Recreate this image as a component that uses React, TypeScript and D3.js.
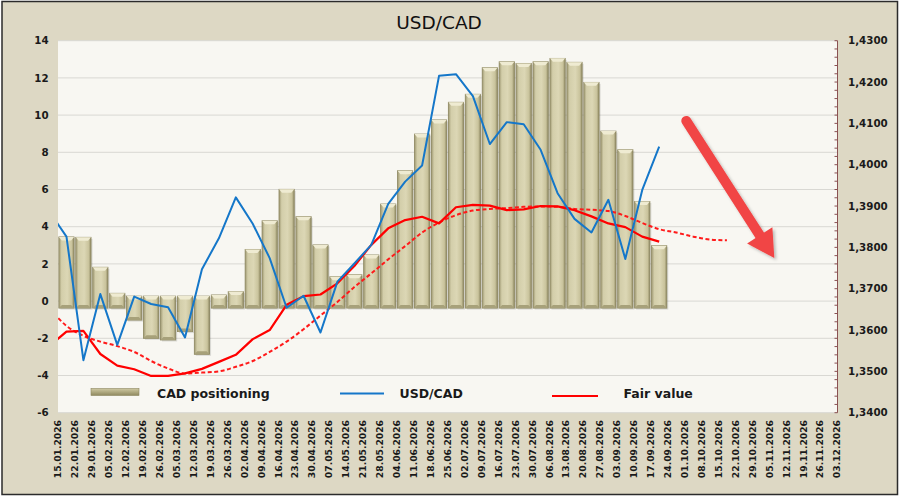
import React, { useRef, useEffect } from 'react';
import * as d3 from 'd3';

// weekly category labels on the x axis
const dates = [
  '15.01.2026', '22.01.2026', '29.01.2026', '05.02.2026', '12.02.2026', '19.02.2026', '26.02.2026',
  '05.03.2026', '12.03.2026', '19.03.2026', '26.03.2026', '02.04.2026', '09.04.2026', '16.04.2026',
  '23.04.2026', '30.04.2026', '07.05.2026', '14.05.2026', '21.05.2026', '28.05.2026', '04.06.2026',
  '11.06.2026', '18.06.2026', '25.06.2026', '02.07.2026', '09.07.2026', '16.07.2026', '23.07.2026',
  '30.07.2026', '06.08.2026', '13.08.2026', '20.08.2026', '27.08.2026', '03.09.2026', '10.09.2026',
  '17.09.2026', '24.09.2026', '01.10.2026', '08.10.2026', '15.10.2026', '22.10.2026', '29.10.2026',
  '05.11.2026', '12.11.2026', '19.11.2026', '26.11.2026', '03.12.2026',
];

// CAD positioning (left axis), one bar per week starting 15.01
const positioning = [
  3.45, 3.43, 1.82, 0.42, -1.02, -2.0, -2.09, -1.64, -2.86, 0.33, 0.51, 2.78, 4.32, 6.01, 4.54, 3.02,
  1.31, 1.42, 2.48, 5.22, 7.01, 8.98, 9.74, 10.69, 11.12, 12.55, 12.87, 12.78, 12.87, 13.05, 12.84,
  11.76, 9.14, 8.14, 5.36, 2.98,
];

// right axis series; first value is the week before 15.01 (clipped at the plot edge)
const usdcad = [
  1.3886, 1.3826, 1.3527, 1.3687, 1.3564, 1.3681, 1.3663, 1.3655, 1.3582, 1.3747, 1.3822, 1.3921,
  1.3857, 1.3774, 1.3654, 1.3683, 1.3594, 1.3717, 1.3761, 1.3806, 1.3905, 1.3959, 1.3998, 1.4215,
  1.4219, 1.4166, 1.405, 1.4103, 1.4098, 1.4036, 1.3931, 1.3869, 1.3836, 1.3915, 1.3772, 1.3939, 1.4044,
];

const fairValue = [
  1.3562, 1.3596, 1.3598, 1.3542, 1.3514, 1.3505, 1.3489, 1.3489, 1.3495, 1.3506, 1.3523, 1.354,
  1.3578, 1.36, 1.3661, 1.3682, 1.3686, 1.3713, 1.3755, 1.3806, 1.3846, 1.3866, 1.3874, 1.3858,
  1.3897, 1.3903, 1.3901, 1.389, 1.3892, 1.39, 1.3899, 1.389, 1.3875, 1.3858, 1.3849, 1.3826, 1.3814,
];

const fairTrend = [
  1.3652, 1.361, 1.3586, 1.3572, 1.3561, 1.3547, 1.3525, 1.3507, 1.3495, 1.3497, 1.35, 1.3511, 1.3525,
  1.3547, 1.3572, 1.3602, 1.3635, 1.3668, 1.3704, 1.3737, 1.3771, 1.3803, 1.3836, 1.386, 1.3878,
  1.3889, 1.3893, 1.3895, 1.3898, 1.3899, 1.3898, 1.3893, 1.3891, 1.3888, 1.3876, 1.3859, 1.3844,
  1.3836, 1.3826, 1.3819, 1.3817,
];

const leftTicks = [-6, -4, -2, 0, 2, 4, 6, 8, 10, 12, 14];
const rightTicks = [1.34, 1.35, 1.36, 1.37, 1.38, 1.39, 1.4, 1.41, 1.42, 1.43];

// arrow annotation: [week index, rate]
const arrowFrom = [37.1, 1.4106];
const arrowTo = [42.3, 1.3774];

const W = 900;
const H = 497;
const FONT = "'DejaVu Sans', Verdana, sans-serif";

const App = () => {
  const svgRef = useRef(null);

  useEffect(() => {
    const svg = d3.select(svgRef.current);
    svg.selectAll('*').remove();

    const plot = { left: 58, right: 837, top: 40.7, bottom: 412.7 };

    const x = d3.scaleLinear().domain([0, dates.length - 1]).range([plot.left, plot.right]);
    const yL = d3.scaleLinear().domain([-6, 14]).range([plot.bottom, plot.top]);
    const yR = d3.scaleLinear().domain([1.34, 1.43]).range([plot.bottom, plot.top]);

    const defs = svg.append('defs');
    defs.append('clipPath').attr('id', 'plotClip')
      .append('rect')
      .attr('x', plot.left).attr('y', plot.top)
      .attr('width', plot.right - plot.left).attr('height', plot.bottom - plot.top);

    const barGrad = defs.append('linearGradient').attr('id', 'barGrad')
      .attr('x1', 0).attr('x2', 1).attr('y1', 0).attr('y2', 0);
    barGrad.append('stop').attr('offset', '0%').attr('stop-color', '#9e9872');
    barGrad.append('stop').attr('offset', '18%').attr('stop-color', '#d3ceaa');
    barGrad.append('stop').attr('offset', '55%').attr('stop-color', '#dcd7b5');
    barGrad.append('stop').attr('offset', '85%').attr('stop-color', '#c9c39c');
    barGrad.append('stop').attr('offset', '100%').attr('stop-color', '#8e8862');

    const legGrad = defs.append('linearGradient').attr('id', 'legGrad')
      .attr('x1', 0).attr('x2', 0).attr('y1', 0).attr('y2', 1);
    legGrad.append('stop').attr('offset', '0%').attr('stop-color', '#cfc9a2');
    legGrad.append('stop').attr('offset', '100%').attr('stop-color', '#8f895f');

    const shadow = defs.append('filter').attr('id', 'arrowShadow')
      .attr('x', '-20%').attr('y', '-20%').attr('width', '140%').attr('height', '140%');
    shadow.append('feDropShadow').attr('dx', 2).attr('dy', 2).attr('stdDeviation', 1.5)
      .attr('flood-color', '#000').attr('flood-opacity', 0.25);

    // background + frame
    svg.append('rect').attr('x', 0).attr('y', 0).attr('width', W).attr('height', H).attr('fill', '#ffffff');
    svg.append('rect')
      .attr('x', 2).attr('y', 1.5).attr('width', 895.5).attr('height', 493)
      .attr('fill', '#ddd8c4').attr('stroke', '#2b2b2b').attr('stroke-width', 1.5);

    svg.append('rect')
      .attr('x', plot.left).attr('y', plot.top)
      .attr('width', plot.right - plot.left).attr('height', plot.bottom - plot.top)
      .attr('fill', '#f8f7f2');

    // title
    svg.append('text')
      .attr('x', 439).attr('y', 28.5)
      .attr('text-anchor', 'middle')
      .attr('font-family', FONT).attr('font-size', 18.5).attr('fill', '#111')
      .text('USD/CAD');

    // gridlines
    svg.append('g').selectAll('line').data(leftTicks).join('line')
      .attr('x1', plot.left).attr('x2', plot.right)
      .attr('y1', d => yL(d)).attr('y2', d => yL(d))
      .attr('stroke', '#d9d8d3').attr('stroke-width', 1);

    // left axis labels (plain hyphen for negatives, as in the original)
    svg.append('g').selectAll('text').data(leftTicks).join('text')
      .attr('x', 48.7).attr('y', d => yL(d))
      .attr('dy', '0.36em').attr('text-anchor', 'end')
      .attr('font-family', FONT).attr('font-size', 10.3).attr('font-weight', 'bold').attr('fill', '#1a1a1a')
      .text(d => String(d));

    // right axis
    const fmtR = (d) => d3.format('.4f')(d).replace('.', ',');
    const rAxis = svg.append('g');
    rAxis.append('line')
      .attr('x1', plot.right + 0.5).attr('x2', plot.right + 0.5)
      .attr('y1', plot.top).attr('y2', plot.bottom)
      .attr('stroke', '#8a5252').attr('stroke-width', 1);
    rAxis.selectAll('line.minor').data(d3.range(1.34, 1.4301, 0.002)).join('line')
      .attr('class', 'minor')
      .attr('x1', plot.right - 2.5).attr('x2', plot.right + 0.5)
      .attr('y1', d => yR(d)).attr('y2', d => yR(d))
      .attr('stroke', '#8a5252').attr('stroke-width', 1);
    rAxis.selectAll('text').data(rightTicks).join('text')
      .attr('x', 848).attr('y', d => yR(d))
      .attr('dy', '0.36em')
      .attr('font-family', FONT).attr('font-size', 10.3).attr('font-weight', 'bold').attr('fill', '#1a1a1a')
      .text(fmtR);

    // x labels
    svg.append('g').selectAll('text').data(dates).join('text')
      .attr('transform', (d, i) => `translate(${x(i) + 3.4},420) rotate(-90)`)
      .attr('text-anchor', 'end')
      .attr('font-family', FONT).attr('font-size', 9.2).attr('font-weight', 'bold').attr('fill', '#1a1a1a')
      .text(d => d);

    // bars
    const step = x(1) - x(0);
    const bw = step * 0.9;
    const bars = svg.append('g').attr('clip-path', 'url(#plotClip)');
    positioning.forEach((v, i) => {
      const cx = x(i + 0.5);
      const top = v >= 0 ? yL(v) : yL(0) - 5;
      const bottom = v >= 0 ? yL(0) + 7 : yL(v);
      const g = bars.append('g');
      g.append('rect')
        .attr('x', cx - bw / 2 + 1.5).attr('y', top + 1.5)
        .attr('width', bw).attr('height', bottom - top)
        .attr('fill', '#000').attr('opacity', 0.12);
      g.append('rect')
        .attr('x', cx - bw / 2).attr('y', top)
        .attr('width', bw).attr('height', bottom - top)
        .attr('fill', 'url(#barGrad)').attr('stroke', '#8c865f').attr('stroke-width', 0.8);
      // bevel caps
      g.append('path')
        .attr('d', `M${cx - bw / 2},${top} L${cx + bw / 2},${top} L${cx + bw / 2 - 3},${top + 3.5} L${cx - bw / 2 + 3},${top + 3.5} Z`)
        .attr('fill', '#efebd2');
      g.append('path')
        .attr('d', `M${cx - bw / 2},${bottom} L${cx + bw / 2},${bottom} L${cx + bw / 2 - 3},${bottom - 3} L${cx - bw / 2 + 3},${bottom - 3} Z`)
        .attr('fill', '#a7a17a');
    });

    // lines
    const lines = svg.append('g').attr('clip-path', 'url(#plotClip)');
    const lineAt = (curve) => d3.line()
      .x((d, i) => x(i - 0.5))
      .y(d => yR(d))
      .curve(curve);

    lines.append('path')
      .datum(fairTrend)
      .attr('d', lineAt(d3.curveMonotoneX))
      .attr('fill', 'none').attr('stroke', '#ff1a1a').attr('stroke-width', 2)
      .attr('stroke-dasharray', '4,2.5');

    lines.append('path')
      .datum(fairValue)
      .attr('d', lineAt(d3.curveLinear))
      .attr('fill', 'none').attr('stroke', '#ff0000').attr('stroke-width', 2.2)
      .attr('stroke-linejoin', 'round');

    lines.append('path')
      .datum(usdcad)
      .attr('d', lineAt(d3.curveLinear))
      .attr('fill', 'none').attr('stroke', '#1577c9').attr('stroke-width', 2)
      .attr('stroke-linejoin', 'round');

    // legend
    const leg = svg.append('g').attr('font-family', FONT).attr('font-size', 12.5).attr('font-weight', 'bold').attr('fill', '#1a1a1a');
    leg.append('rect').attr('x', 91).attr('y', 388.5).attr('width', 48).attr('height', 7)
      .attr('fill', 'url(#legGrad)').attr('stroke', '#8c865f').attr('stroke-width', 0.6);
    leg.append('text').attr('x', 157).attr('y', 398).text('CAD positioning');
    leg.append('line').attr('x1', 340).attr('x2', 384).attr('y1', 393.5).attr('y2', 393.5)
      .attr('stroke', '#1577c9').attr('stroke-width', 2);
    leg.append('text').attr('x', 399.5).attr('y', 398).text('USD/CAD');
    leg.append('line').attr('x1', 552).attr('x2', 598).attr('y1', 396).attr('y2', 396)
      .attr('stroke', '#ff0000').attr('stroke-width', 2);
    leg.append('text').attr('x', 623.5).attr('y', 398).text('Fair value');

    // arrow annotation
    const ax1 = x(arrowFrom[0]), ay1 = yR(arrowFrom[1]);
    const ax2 = x(arrowTo[0]), ay2 = yR(arrowTo[1]);
    const len = Math.hypot(ax2 - ax1, ay2 - ay1);
    const ux = (ax2 - ax1) / len, uy = (ay2 - ay1) / len;
    const px = -uy, py = ux;
    const headL = 27, headW = 15;
    const bx = ax2 - ux * headL, by = ay2 - uy * headL;
    const arrow = svg.append('g').attr('filter', 'url(#arrowShadow)');
    arrow.append('line')
      .attr('x1', ax1).attr('y1', ay1).attr('x2', bx + ux * 2).attr('y2', by + uy * 2)
      .attr('stroke', '#f14545').attr('stroke-width', 10).attr('stroke-linecap', 'round');
    arrow.append('path')
      .attr('d', `M${ax2},${ay2} L${bx + px * headW},${by + py * headW} L${bx - px * headW},${by - py * headW} Z`)
      .attr('fill', '#f14545');
  }, []);

  return (
    <svg ref={svgRef} width={W} height={H} style={{ position: 'absolute', left: 0, top: 0, display: 'block' }} />
  );
};

export default App;
